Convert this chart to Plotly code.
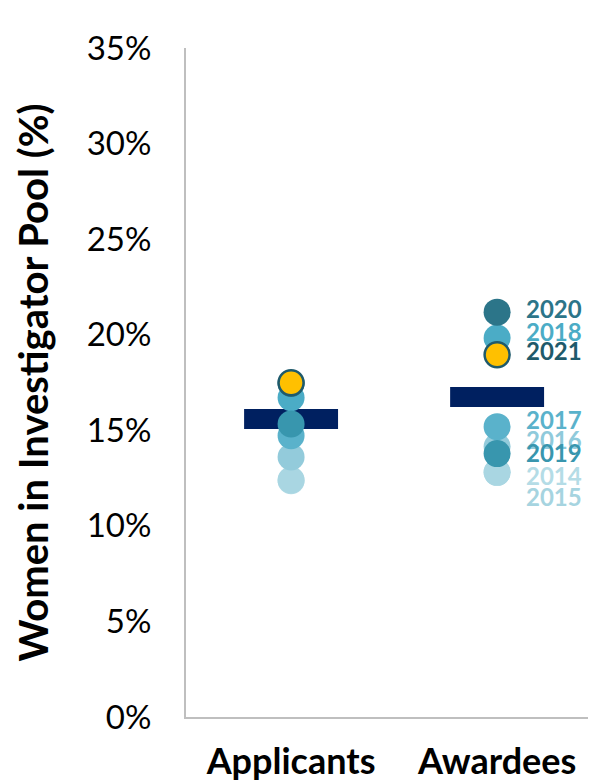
import plotly.graph_objects as go

# --- DATA ---
groups = ["Applicants", "Awardees"]
years = [2014, 2015, 2016, 2017, 2018, 2019, 2020, 2021]
applicants_pct = [12.36, 12.4, 13.6, 14.72, 16.7, 15.33, 17.45, 17.49]
awardees_pct = [12.8, 12.8, 14.15, 15.19, 19.83, 13.78, 21.18, 18.95]
mean_pct = [15.59, 16.74]
# label positions for the year tags next to the awardee points
label_pct = [12.6, 11.46, 14.49, 15.49, 20.09, 13.76, 21.31, 19.10]
y_ticks = [0, 5, 10, 15, 20, 25, 30, 35]

# --- STYLE ---
year_colors = ['#b4dce6', '#a9d6e2', '#93cbdb', '#5ab2cb',
               '#4bacc6', '#3896ae', '#2c7589', '#ffc000']
label_colors = ['#b4dce6', '#a6d4e0', '#8fcadb', '#5ab2cb',
                '#4bacc6', '#3896ae', '#2c7589', '#1f5a6b']
FONT = "Lato"

fig = go.Figure()

# mean bars (thick navy dash)
fig.add_trace(go.Bar(
    x=groups, y=[1.05] * len(mean_pct), base=[m - 0.525 for m in mean_pct],
    width=0.456, marker=dict(color='#002060', line=dict(width=0)),
    hoverinfo='skip', showlegend=False))

for i, yr in enumerate(years):
    is_last = yr == 2021
    fig.add_trace(go.Scatter(
        x=groups, y=[applicants_pct[i], awardees_pct[i]],
        mode='markers', name=str(yr), showlegend=False,
        marker=dict(size=27 if not is_last else 25, color=year_colors[i],
                    line=dict(width=2.5 if is_last else 0, color='#1f5a6b'))))

for i, yr in enumerate(years):
    fig.add_annotation(
        x="Awardees", y=label_pct[i], text="<b>%d</b>" % yr,
        xanchor='left', yanchor='middle', xshift=27, yshift=1,
        showarrow=False, font=dict(family=FONT, size=24, color=label_colors[i]))

# page body has an 8px margin, so the figure is drawn 8px smaller
fig.update_layout(
    width=588, height=775,
    margin=dict(l=178, r=0, t=40, b=66),
    paper_bgcolor='white', plot_bgcolor='white',
    font=dict(family=FONT, color='black'),
    barmode='overlay',
)
fig.update_xaxes(
    type='category', range=[-0.51, 1.48], automargin=False,
    showline=True, linecolor='#bfbfbf', linewidth=2,
    showgrid=False, ticks='', ticklabelstandoff=12,
    tickfont=dict(family=FONT, size=36, color='black'),
    tickvals=groups, ticktext=["<b>%s</b>" % g for g in groups])
fig.update_yaxes(
    range=[0, 35], tickvals=y_ticks, ticktext=["%d%%" % t for t in y_ticks],
    automargin=False,
    showline=True, linecolor='#bfbfbf', linewidth=2,
    showgrid=False, zeroline=False, ticks='', ticklabelstandoff=26,
    tickfont=dict(family=FONT, size=33, color='black'),
    title=dict(text="<b>Women in Investigator Pool (%)</b>", standoff=26,
               font=dict(family=FONT, size=40, color='black')))

fig.write_html("out.html")
